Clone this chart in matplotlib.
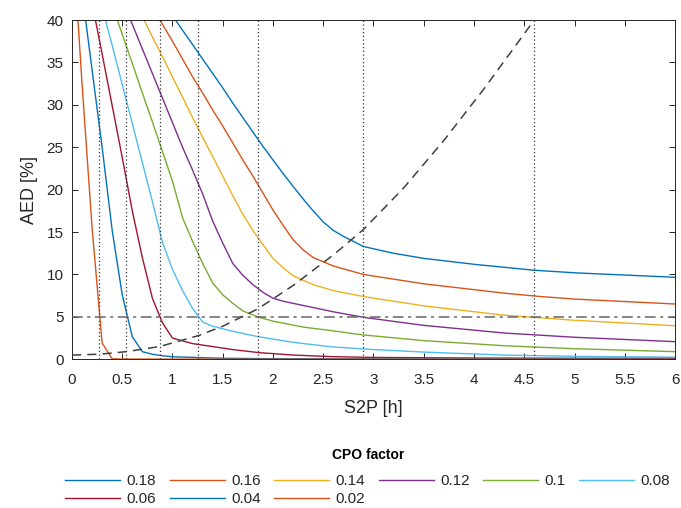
import matplotlib
matplotlib.use("Agg")
import matplotlib.pyplot as plt

plt.rcParams['font.family'] = ['Liberation Sans', 'DejaVu Sans']

# ---- data ----
cpo_labels = ['0.18', '0.16', '0.14', '0.12', '0.1', '0.08', '0.06', '0.04', '0.02']
cpo_colors = ['#0072BD', '#D95319', '#EDB120', '#7E2F8E', '#77AC30',
              '#4DBEEE', '#A2142F', '#0072BD', '#D95319']

x_018 = [1.0, 1.1, 1.2, 1.3, 1.4, 1.5, 1.6, 1.7, 1.8, 1.9, 2.0, 2.1, 2.2, 2.3, 2.4, 2.5, 2.6, 2.7, 2.9, 3.2, 3.5, 4.0, 4.6, 5.0, 6.0]
y_018 = [40.5, 38.8, 37.1, 35.4, 33.7, 32.0, 30.2, 28.5, 26.8, 25.1, 23.5, 21.9, 20.4, 18.9, 17.5, 16.2, 15.2, 14.5, 13.3, 12.5, 11.9, 11.2, 10.5, 10.2, 9.67]

x_016 = [0.8, 0.9, 1.0, 1.1, 1.2, 1.3, 1.4, 1.5, 1.6, 1.7, 1.8, 1.9, 2.0, 2.1, 2.2, 2.3, 2.4, 2.6, 2.9, 3.5, 4.3, 4.6, 5.0, 6.0]
y_016 = [41.5, 39.5, 37.5, 35.4, 33.3, 31.4, 29.4, 27.5, 25.5, 23.5, 21.6, 19.6, 17.6, 15.8, 14.1, 12.9, 12.0, 11.0, 10.0, 8.9, 7.8, 7.46, 7.1, 6.52]

x_014 = [0.7, 0.8, 0.9, 1.0, 1.1, 1.2, 1.3, 1.4, 1.5, 1.6, 1.7, 1.8, 1.9, 2.0, 2.1, 2.2, 2.4, 2.6, 2.9, 3.5, 4.3, 4.6, 5.0, 6.0]
y_014 = [40.4, 38.0, 35.7, 33.3, 30.9, 28.5, 26.2, 23.9, 21.6, 19.3, 17.1, 15.2, 13.5, 11.9, 10.8, 9.85, 8.8, 8.1, 7.4, 6.3, 5.2, 4.95, 4.6, 3.96]

x_012 = [0.5, 0.6, 0.7, 0.8, 0.9, 1.0, 1.1, 1.2, 1.3, 1.4, 1.5, 1.6, 1.7, 1.8, 1.9, 2.0, 2.1, 2.2, 2.6, 2.9, 3.5, 4.3, 5.0, 6.0]
y_012 = [42.3, 39.5, 36.6, 33.7, 30.8, 27.9, 25.0, 22.3, 19.5, 16.3, 13.7, 11.3, 9.9, 8.8, 7.9, 7.2, 6.85, 6.6, 5.6, 4.95, 4.0, 3.1, 2.6, 2.08]

x_010 = [0.4, 0.5, 0.6, 0.7, 0.8, 0.9, 1.0, 1.1, 1.2, 1.3, 1.4, 1.5, 1.6, 1.7, 1.85, 2.0, 2.3, 2.6, 2.9, 3.5, 4.3, 5.0, 6.0]
y_010 = [41.8, 38.3, 34.9, 31.4, 28.0, 24.5, 21.0, 16.7, 13.9, 11.3, 9.0, 7.6, 6.6, 5.7, 5.0, 4.5, 3.8, 3.35, 2.87, 2.2, 1.6, 1.25, 0.9]

x_008 = [0.3, 0.4, 0.5, 0.6, 0.7, 0.8, 0.9, 1.0, 1.1, 1.2, 1.3, 1.4, 1.6, 1.85, 2.2, 2.6, 3.0, 3.5, 4.3, 5.0, 6.0]
y_008 = [41.5, 37.0, 32.4, 27.8, 23.2, 18.6, 13.8, 10.6, 8.1, 6.0, 4.4, 3.9, 3.3, 2.67, 2.0, 1.45, 1.15, 0.85, 0.5, 0.35, 0.25]

x_006 = [0.2, 0.3, 0.4, 0.5, 0.6, 0.7, 0.8, 0.9, 1.0, 1.2, 1.4, 1.6, 1.85, 2.2, 2.6, 3.0, 4.0, 6.0]
y_006 = [42.0, 36.0, 29.9, 23.8, 17.5, 12.0, 7.2, 4.3, 2.5, 1.85, 1.5, 1.15, 0.8, 0.5, 0.31, 0.22, 0.15, 0.1]

x_004 = [0.0, 0.1, 0.2, 0.3, 0.4, 0.5, 0.6, 0.7, 0.8, 0.9, 1.0, 1.5, 2.0, 3.0, 6.0]
y_004 = [55.8, 43.3, 34.1, 25.0, 15.2, 7.6, 2.67, 0.9, 0.6, 0.42, 0.3, 0.12, 0.07, 0.04, 0.02]

x_002 = [0.0, 0.1, 0.2, 0.3, 0.4, 0.5, 1.0, 2.0, 6.0]
y_002 = [51.0, 32.5, 15.5, 1.9, 0.05, 0.03, 0.02, 0.01, 0.01]

# dashed boundary curve
x_dash = [0.0, 0.27, 0.54, 0.87, 1.26, 1.5, 1.85, 2.2, 2.6, 2.9, 3.3, 3.7, 4.1, 4.6]
y_dash = [0.5, 0.6, 0.9, 1.5, 2.8, 3.9, 5.95, 8.7, 12.3, 15.3, 20.2, 25.8, 31.9, 40.0]

# threshold and crossing S2P values
aed_limit = 5
x_cross = [0.269, 0.535, 0.873, 1.258, 1.852, 2.897, 4.60]

x_ticks = [0, 0.5, 1, 1.5, 2, 2.5, 3, 3.5, 4, 4.5, 5, 5.5, 6]
x_tick_labels = ['0', '0.5', '1', '1.5', '2', '2.5', '3', '3.5', '4', '4.5', '5', '5.5', '6']
y_ticks = [0, 5, 10, 15, 20, 25, 30, 35, 40]

series_x = [x_018, x_016, x_014, x_012, x_010, x_008, x_006, x_004, x_002]
series_y = [y_018, y_016, y_014, y_012, y_010, y_008, y_006, y_004, y_002]

# ---- figure ----
fig = plt.figure(figsize=(6.81, 5.08), dpi=100)
ax = fig.add_axes([0.1057, 0.2927, 0.8855, 0.6679])

handles = []
for xs, ys, c, lab in zip(series_x, series_y, cpo_colors, cpo_labels):
    h, = ax.plot(xs, ys, color=c, lw=1.0, label=lab)
    handles.append(h)

for xv in x_cross:
    ax.axvline(xv, color='#333333', lw=0.9, linestyle=(0, (1, 2)), zorder=3)

ax.axhline(aed_limit, color='#666666', lw=1.1, linestyle=(0, (7, 3, 2, 3)), zorder=3)
ax.plot(x_dash, y_dash, color='#404040', lw=1.1, linestyle=(0, (6, 4)), zorder=3)

ax.set_xlim(0, 6)
ax.set_ylim(0, 40)
ax.set_xticks(x_ticks)
ax.set_xticklabels(x_tick_labels)
ax.set_yticks(y_ticks)
ax.tick_params(direction='in', top=True, right=True, length=4, width=0.7,
               labelsize=11, colors='#262626')
ax.tick_params(axis='x', pad=10)
ax.tick_params(axis='y', pad=6)
for s in ax.spines.values():
    s.set_color('#262626')
    s.set_linewidth(0.7)
ax.set_xlabel('S2P [h]', fontsize=13, color='#262626', labelpad=9)
ax.set_ylabel('AED [%]', fontsize=13, color='#262626', labelpad=6)

# legend: row-wise order 0.18..0.08 / 0.06..0.02
order = [0, 6, 1, 7, 2, 8, 3, 4, 5]
leg = fig.legend([handles[i] for i in order], [cpo_labels[i] for i in order],
                 loc='upper center', bbox_to_anchor=(0.54, 0.131), ncol=6,
                 frameon=False, fontsize=11, handlelength=3.6, handletextpad=0.4,
                 columnspacing=0.9, labelspacing=0.25, borderaxespad=0.0,
                 title='CPO factor', title_fontproperties={'weight': 'bold', 'size': 10})
leg._legend_box.sep = 9
for t in leg.get_texts():
    t.set_color('#262626')

fig.savefig('out.png', dpi=100)
